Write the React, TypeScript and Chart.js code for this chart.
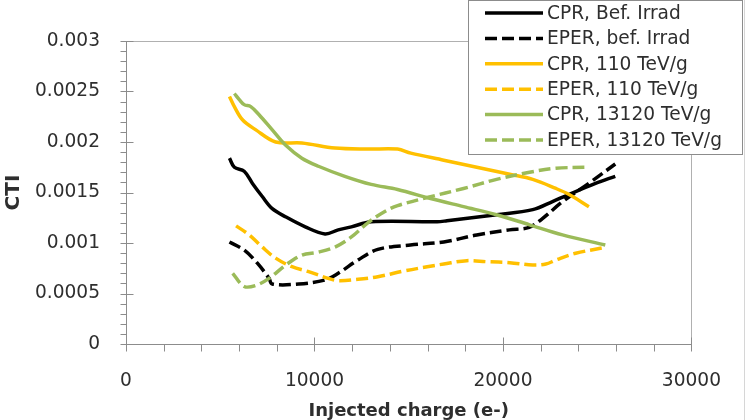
import { useEffect, useRef } from 'react';
import { Chart, registerables } from 'chart.js';

Chart.register(...registerables);

// Injected charge (e-) and CTI, one pair of arrays per measurement series
const cprBefX = [5490, 5750, 6270, 6710, 7230, 7760, 8460, 9510, 10560, 11260, 11960, 13010, 16510, 17030, 19660, 21580, 22630, 23490, 24910, 25960];
const cprBefY = [0.00184, 0.00175, 0.00171, 0.00159, 0.00146, 0.00134, 0.00126, 0.00116, 0.00109, 0.00113, 0.00116, 0.00121, 0.00121, 0.00122, 0.00128, 0.00133, 0.00141, 0.00148, 0.00159, 0.00166];

const eperBefX = [5490, 6270, 6970, 7590, 7760, 9160, 10560, 11260, 12310, 13360, 15090, 16860, 18610, 20340, 21390, 22110, 23160, 24560, 25960];
const eperBefY = [0.00101, 0.00093, 0.0008, 0.00065, 0.000594, 0.000594, 0.000634, 0.0007, 0.000832, 0.000937, 0.00098, 0.00101, 0.00108, 0.00113, 0.001155, 0.001244, 0.001409, 0.001591, 0.001782];

const cpr110X = [5490, 5750, 6180, 6890, 7940, 9330, 11090, 12830, 14410, 15110, 16860, 18610, 20360, 21580, 22810, 23510, 24560];
const cpr110Y = [0.00245, 0.00235, 0.00222, 0.00212, 0.002, 0.00199, 0.00194, 0.00193, 0.00193, 0.00189, 0.00182, 0.00175, 0.00168, 0.00163, 0.00154, 0.00148, 0.00136];

const eper110X = [5840, 6540, 7230, 7940, 8810, 9690, 10730, 11260, 12310, 13360, 14760, 15980, 16860, 18080, 19130, 20360, 21580, 22280, 22810, 23860, 25430];
const eper110Y = [0.00117, 0.00108, 0.00096, 0.00085, 0.000765, 0.000716, 0.00065, 0.000627, 0.00064, 0.000666, 0.000723, 0.000765, 0.000792, 0.000825, 0.000815, 0.000805, 0.000782, 0.000792, 0.000832, 0.000898, 0.000957];

const cpr13120X = [5750, 6010, 6270, 6620, 7060, 7760, 8460, 9330, 10210, 11610, 13010, 14410, 16160, 17910, 19660, 21410, 23160, 25430];
const cpr13120Y = [0.00248, 0.00242, 0.00237, 0.00235, 0.00227, 0.00212, 0.00197, 0.00184, 0.00176, 0.00166, 0.00158, 0.00153, 0.00144, 0.00136, 0.00128, 0.00118, 0.00108, 0.00098];

const eper13120X = [5660, 6270, 6890, 7590, 8460, 9330, 10210, 11090, 11960, 12830, 13710, 14410, 15980, 17910, 19660, 21410, 22810, 24560];
const eper13120Y = [0.0007, 0.00057, 0.00058, 0.00065, 0.00078, 0.00088, 0.00091, 0.00096, 0.00106, 0.0012, 0.00131, 0.00137, 0.00145, 0.00154, 0.00163, 0.0017, 0.00174, 0.00175];

const seriesLabels = [
  'CPR, Bef. Irrad',
  'EPER, bef. Irrad',
  'CPR, 110 TeV/g',
  'EPER, 110 TeV/g',
  'CPR, 13120 TeV/g',
  'EPER, 13120 TeV/g',
];

const xTickLabels = ['0', '10000', '20000', '30000'];
const yTickLabels = ['0', '0.0005', '0.001', '0.0015', '0.002', '0.0025', '0.003'];
const xTitle = 'Injected charge (e-)';
const yTitle = 'CTI';

const X_MAX = 30000;
const X_STEP = 10000;
const X_MINOR_PER_MAJOR = 5;
const Y_MAX = 0.003;
const Y_STEP = 0.0005;
const Y_MINOR_PER_MAJOR = 5;

const FONT = '"DejaVu Sans", sans-serif';
const TEXT = '#2e2e2e';
const AXIS = '#8c8c8c';
const BLACK = '#000000';
const GOLD = '#FFC000';
const GREEN = '#9BBB59';
const DASH = [12, 5];

const pts = (xs: number[], ys: number[]) => xs.map((x, i) => ({ x, y: ys[i] }));

export default function App() {
  const ref = useRef<HTMLCanvasElement>(null);

  useEffect(() => {
    document.body.style.margin = '0';
    const canvas = ref.current;
    if (!canvas) return;

    const frame = {
      id: 'frame',
      beforeDraw(c: any) {
        const ctx = c.ctx;
        ctx.save();
        ctx.fillStyle = '#ffffff';
        ctx.fillRect(0, 0, c.width, c.height);
        ctx.restore();
      },
      beforeDatasetsDraw(c: any) {
        const { ctx, chartArea: a } = c;
        const xs = c.scales.x;
        const ys = c.scales.y;
        const x0 = Math.round(a.left) + 0.5;
        const y0 = Math.round(a.bottom) + 0.5;
        const xr = Math.round(a.right) + 0.5;
        const yt = Math.round(a.top) + 0.5;
        ctx.save();
        ctx.lineWidth = 1;
        // plot area outline (top and right)
        ctx.strokeStyle = '#b0b0b0';
        ctx.beginPath();
        ctx.moveTo(x0, yt);
        ctx.lineTo(xr, yt);
        ctx.lineTo(xr, y0);
        ctx.stroke();
        // axis lines and tick marks
        ctx.strokeStyle = AXIS;
        ctx.beginPath();
        ctx.moveTo(x0, yt);
        ctx.lineTo(x0, y0);
        ctx.lineTo(xr, y0);
        const nY = Math.round(Y_MAX / Y_STEP) * Y_MINOR_PER_MAJOR;
        for (let i = 0; i <= nY; i++) {
          const py = Math.round(ys.getPixelForValue((i * Y_STEP) / Y_MINOR_PER_MAJOR)) + 0.5;
          const major = i % Y_MINOR_PER_MAJOR === 0;
          ctx.moveTo(x0 - 6, py);
          ctx.lineTo(major ? x0 + 7 : x0, py);
        }
        const nX = Math.round(X_MAX / X_STEP) * X_MINOR_PER_MAJOR;
        for (let i = 0; i <= nX; i++) {
          const px = Math.round(xs.getPixelForValue((i * X_STEP) / X_MINOR_PER_MAJOR)) + 0.5;
          const major = i % X_MINOR_PER_MAJOR === 0;
          ctx.moveTo(px, major ? y0 - 7 : y0);
          ctx.lineTo(px, y0 + 7);
        }
        ctx.stroke();
        ctx.restore();
      },
      afterDraw(c: any) {
        const ctx = c.ctx;
        ctx.save();
        // outer chart edge
        ctx.strokeStyle = '#d6d6d6';
        ctx.lineWidth = 1;
        ctx.beginPath();
        ctx.moveTo(744.5, 0);
        ctx.lineTo(744.5, c.height);
        ctx.stroke();
        // legend box
        const L = 468.5, T = 0.5, R = 742.5, B = 154.5;
        ctx.fillStyle = '#ffffff';
        ctx.fillRect(L, T, R - L, B - T);
        ctx.strokeStyle = '#8c8c8c';
        ctx.strokeRect(L, T, R - L, B - T);
        ctx.font = '18.6px ' + FONT;
        ctx.textBaseline = 'middle';
        ctx.textAlign = 'left';
        c.data.datasets.forEach((ds: any, i: number) => {
          const y = 13 + i * 25.4;
          ctx.strokeStyle = ds.borderColor;
          ctx.lineWidth = 3.5;
          ctx.lineCap = 'butt';
          ctx.setLineDash(ds.borderDash || []);
          ctx.beginPath();
          ctx.moveTo(485, y);
          ctx.lineTo(543, y);
          ctx.stroke();
          ctx.setLineDash([]);
          ctx.fillStyle = TEXT;
          ctx.fillText(ds.label, 547, y + 1);
        });
        ctx.restore();
      },
    };

    const series = [
      { xs: cprBefX, ys: cprBefY, color: BLACK, dash: [] as number[] },
      { xs: eperBefX, ys: eperBefY, color: BLACK, dash: DASH },
      { xs: cpr110X, ys: cpr110Y, color: GOLD, dash: [] as number[] },
      { xs: eper110X, ys: eper110Y, color: GOLD, dash: DASH },
      { xs: cpr13120X, ys: cpr13120Y, color: GREEN, dash: [] as number[] },
      { xs: eper13120X, ys: eper13120Y, color: GREEN, dash: DASH },
    ];

    const chart = new Chart(canvas, {
      type: 'line',
      data: {
        datasets: series.map((s, i) => ({
          label: seriesLabels[i],
          data: pts(s.xs, s.ys),
          borderColor: s.color,
          backgroundColor: s.color,
          borderWidth: 3.5,
          borderDash: s.dash,
          borderCapStyle: 'butt',
          borderJoinStyle: 'round',
          pointRadius: 0,
          fill: false,
          tension: 0.35,
          order: series.length - i,
        })),
      },
      options: {
        responsive: false,
        animation: false,
        devicePixelRatio: 1,
        layout: { padding: { left: 0, top: 41, right: 50, bottom: 0 } },
        plugins: {
          legend: { display: false },
          tooltip: { enabled: false },
        },
        scales: {
          x: {
            type: 'linear',
            min: 0,
            max: X_MAX,
            grid: { display: false, drawTicks: false },
            border: { display: false },
            ticks: {
              stepSize: X_STEP,
              padding: 26,
              color: TEXT,
              font: { family: FONT, size: 18.6 },
              maxRotation: 0,
              callback: (v: any) => xTickLabels[Math.round(Number(v) / X_STEP)] ?? '',
            },
            title: {
              display: true,
              text: xTitle,
              color: TEXT,
              font: { family: FONT, size: 18, weight: 'bold', lineHeight: 1 },
              padding: { top: 0, bottom: 0 },
            },
            afterFit: (s: any) => {
              s.height = 76;
            },
          },
          y: {
            type: 'linear',
            min: 0,
            max: Y_MAX,
            grid: { display: false, drawTicks: false },
            border: { display: false },
            ticks: {
              stepSize: Y_STEP,
              padding: 26,
              color: TEXT,
              font: { family: FONT, size: 18.6 },
              callback: (v: any) => yTickLabels[Math.round(Number(v) / Y_STEP)] ?? '',
            },
            title: {
              display: true,
              text: yTitle,
              color: TEXT,
              font: { family: FONT, size: 20, weight: 'bold', lineHeight: 1.2 },
              padding: { top: 2, bottom: 0 },
            },
            afterFit: (s: any) => {
              s.width = 126;
            },
          },
        },
      } as any,
      plugins: [frame],
    });

    return () => chart.destroy();
  }, []);

  return (
    <div style={{ width: 747, height: 420 }}>
      <canvas ref={ref} width={747} height={420} style={{ display: 'block' }} />
    </div>
  );
}
